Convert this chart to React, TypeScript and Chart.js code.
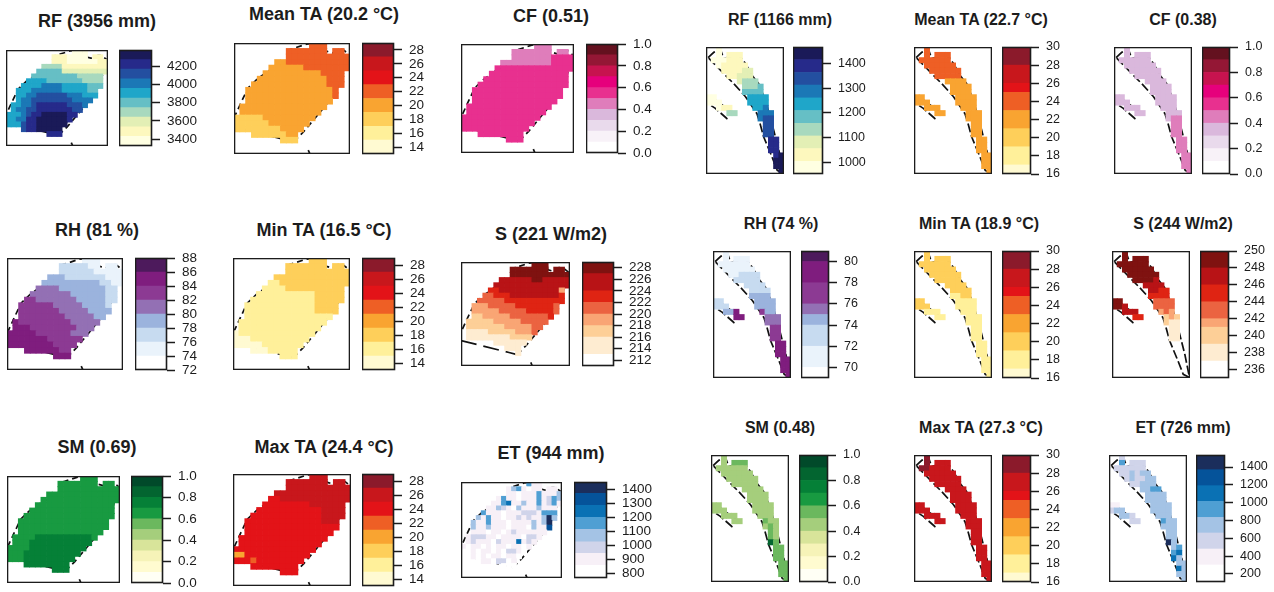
import React, { useEffect, useRef } from "react";
import { Chart, registerables } from "chart.js";

Chart.register(...registerables);

// ---------- colour ramps (lowest band first) ----------
const rampYlGnBu = ["#FFFFE2", "#FDF8BE", "#E3EFB5", "#A8D9BE", "#66BFC5", "#1FA6C9", "#1B78B6", "#234FA0", "#262A8A", "#1A1A58"];
const rampHeat = ["#FFFAD2", "#FFF09A", "#FECF5A", "#F9A431", "#EE5F25", "#E31318", "#C8171C", "#8B1A2B"];
const rampPuRd = ["#FFFFFF", "#F8F2F8", "#E9DAEC", "#DAB8DC", "#DF7DBB", "#E8308F", "#E6007C", "#C7134F", "#941735", "#64111F"];
const rampBuPu = ["#FFFFFF", "#EAF3FB", "#C7DBF0", "#9BB3DD", "#9370B4", "#8C3A93", "#7F1D7E", "#4D1A5C"];
const rampOrRd = ["#FFFFFF", "#FEECD1", "#FDCF97", "#F9A574", "#EB6341", "#DF2413", "#B81316", "#7F1210"];
const rampYlGn = ["#FFFFF5", "#FFFBD0", "#F6F3B8", "#D8E49A", "#A5CE7C", "#6BB85E", "#189A41", "#058037", "#036530", "#014A2A"];
const rampBlue = ["#FFFFFF", "#F7F0F7", "#D0D4EA", "#A4C3E5", "#4F9FD3", "#0A71B4", "#05539A", "#1B2E5C"];

// ---------- colour-bar band edges ----------
const bandsRfA = [3323, 3429, 3534, 3640, 3745, 3851, 3957, 4062, 4168, 4273, 4379];
const bandsTaA = [13, 15, 17, 19, 21, 23, 25, 27, 29];
const bandsUnit = [0, 0.1, 0.2, 0.3, 0.4, 0.5, 0.6, 0.7, 0.8, 0.9, 1];
const bandsRhA = [72, 74, 76, 78, 80, 82, 84, 86, 88];
const bandsSA = [211, 213, 216, 218, 220, 222, 224, 227, 229];
const bandsEtA = [767, 857, 943, 1025, 1114, 1200, 1285, 1371, 1452];
const bandsRfB = [953, 1004, 1056, 1107, 1158, 1210, 1261, 1313, 1364, 1416, 1467];
const bandsTaB = [16, 17, 19, 21, 23, 25, 26, 28, 30];
const bandsRhB = [69, 70, 72, 74, 75, 76, 78, 80, 81];
const bandsSB = [235, 237, 239, 241, 242, 244, 246, 248, 250];
const bandsEtB = [110, 301, 480, 660, 835, 1015, 1191, 1370, 1535];

// ---------- tick labels ----------
const ticksRfA = [3400, 3600, 3800, 4000, 4200];
const ticksTaA = [14, 16, 18, 20, 22, 24, 26, 28];
const ticksUnit = [0, 0.2, 0.4, 0.6, 0.8, 1];
const ticksRhA = [72, 74, 76, 78, 80, 82, 84, 86, 88];
const ticksSA = [212, 214, 216, 218, 220, 222, 224, 226, 228];
const ticksEtA = [800, 900, 1000, 1100, 1200, 1300, 1400];
const ticksRfB = [1000, 1100, 1200, 1300, 1400];
const ticksTaB = [16, 18, 20, 22, 24, 26, 28, 30];
const ticksRhB = [70, 72, 74, 76, 78, 80];
const ticksSB = [236, 238, 240, 242, 244, 246, 248, 250];
const ticksEtB = [200, 400, 600, 800, 1000, 1200, 1400];

// ---------- outlines, in grid cells ----------
const outlineA = [[10.3, 17.8], [12, 16], [14, 13.5], [16, 11], [17.5, 9], [18.6, 6.5], [19.2, 4], [20, 2.2], [18.8, 1.2], [18, 1.1], [17, 1.8], [16, 1.5], [15.5, 0.7], [14, 0], [12.5, 0.2], [9.6, 1.2], [9.3, 3.2], [8, 4], [6, 5], [4, 6.5], [2.5, 8], [2, 9], [1.1, 11], [0, 13.5]];
const bottomA = [[0, 15.1], [8.8, 17.4], [10.3, 17.8]];
const markA = [[12.8, 19.3], [13.1, 20]];
const outlineB = [[0.4, 2], [1.5, 1], [2.8, 0.5], [3.4, 2.2], [4.4, 1.9], [6.3, 1.6], [7.6, 3.1], [8.8, 5.3], [10.1, 6.9], [11.4, 10], [12.7, 14.5], [14, 19.5], [14.9, 23.9], [13.7, 23.3], [12.7, 20.8], [11.1, 17], [10.4, 14.5], [9.8, 12.6], [7.6, 9.4], [5.6, 7.2], [3.1, 4.7], [1.5, 3.1], [0.4, 2]];
const islandB = [[0.4, 9.4], [1.8, 10], [5, 12.3], [4, 13.5], [1.8, 11.6], [0.4, 10.7], [0.4, 9.4]];

// ---------- grids: each digit is the colour band of one cell ----------
const rfWet = [
  ".............000....", ".........1110000.11.", ".........11100000011", ".......3333111111111", "......44444222222222", ".....44444444433333.",
  "....555544444443333.", "...5555666655555444.", "..5556666665555544..", "..5566777777666555..", "..566777777776666...", ".556678888887776....",
  ".56677888888877.....", "55567889999988......", "5566889999998.......", "555788999999........", "...78899999.........", "........888.........",
];
const meanWet = [
  ".............444....", ".........4444444.44.", ".........44444444444", ".......3344444444444", "......33333344444444", ".....33333333334444.",
  "....333333333333444.", "...3333333333333444.", "..3333333333333334..", "..3333333333333334..", "..333333333333333...", ".333333333333333....",
  ".33333333333333.....", "22222333333333......", "2222223333333.......", "222222223333........", "...22222233.........", "........222.........",
];
const cfWet = [
  ".............444....", ".........4444444.44.", ".........44444445555", ".......4444444445555", "......55555555555555", ".....55555555555555.",
  "....555555555555555.", "...5555555555555555.", "..5555555555555555..", "..5555555555555555..", "..555555555555555...", ".555555555555555....",
  ".55555555555555.....", "55555555555555......", "5555555555555.......", "555555555555........", "...55555555.........", "........555.........",
];
const rhWet = [
  ".............111....", ".........2222211.11.", ".........22222211111", ".......3332222222111", "......33333333332211", ".....44443333333322.",
  "....444444433333322.", "...5544444443333322.", "..5555554444433332..", "..5555555444443333..", "..555555554444433...", ".655555555544444....",
  ".66655555555444.....", "66666555555444......", "6666666555555.......", "666666665555........", "...66666655.........", "........666.........",
];
const minWet = [
  ".............222....", ".........2222222.22.", ".........22222222222", ".......2222222222222", "......11222222222222", ".....11112222222222.",
  "....111111111122222.", "...1111111111122222.", "..1111111111112222..", "..1111111111112222..", "..111111111111111...", ".111111111111111....",
  ".11111111111111.....", "01111111111111......", "0001111111111.......", "000001111111........", "...00011111.........", "........111.........",
];
const sWet = [
  ".............777....", ".........7777777.77.", ".........77777777777", ".......6666667766666", "......66666666666666", ".....55666666666663.",
  "....445556666666665.", "...4444455555555555.", "..3334444455555554..", "..3333344444555554..", "..223333344444445...", ".222223333344444....",
  ".22222223333344.....", ".1111222223334......", ".111111112222.......", "......111111........", "........111.........", "..........1.........",
];
const smWet = [
  ".............666....", ".........6666666.66.", ".........66666666666", ".......6666666666666", "......66666666666666", ".....66666666666666.",
  "....666666666666666.", "...6666666666666666.", "..6666666666666666..", "..6666666666666666..", "..666666666666666...", ".666677777777776....",
  ".66677777777777.....", "66667777777777......", "6667777777777.......", "666777777777........", "...77777777.........", "........777.........",
];
const maxWet = [
  ".............666....", ".........6666666.66.", ".........66666666666", ".......6666666666666", "......55666666666666", ".....55555555666666.",
  "....555555555556666.", "...5555555555556666.", "..5555555555555666..", "..5555555555555555..", "..555555555555555...", ".555555555555555....",
  ".55555555555555.....", "55555555555555......", "3355555555555.......", "555455555555........", "...55555555.........", "........555.........",
];
const etWet = [
  ".............411....", ".........1341011.11.", ".........11011141113", ".......1411011141243", "......11451131141241", ".....11321031113111.",
  "....411101112221444.", "...3141101121211373.", "..3114111011113137..", "..3113111011103116..", "..111011012111111...", ".122211011110221....",
  ".12111021115121.....", "10110101101101......", "0010110102210.......", "001010110110........", "...01102201.........", "........000.........",
];

const rfDry = [
  "..0............", "..0.111........", ".000111........", "..011111.......", "...111122......", "....11222......", "......2333.....", ".......3334....",
  ".......4444....", "00......5555...", "000.....5555...", "..011....556...", "....33....666..", "..........677..", "...........77..", "...........77..",
  "...........77..", "............88.", "............88.", "............88.", ".............89", ".............99", ".............99", "..............9",
];
const meanDry = [
  "..4............", "..4.444........", ".444444........", "..444444.......", "...444444......", "....44444......", "......3333.....", ".......3333....",
  ".......3333....", "33......3333...", "333.....3333...", "..333....333...", "....33....333..", "..........333..", "...........33..", "...........33..",
  "...........33..", "............33.", "............33.", "............33.", ".............33", ".............33", ".............33", "..............3",
];
const cfDry = [
  "..3............", "..3.333........", ".333333........", "..333333.......", "...333333......", "....33333......", "......3333.....", ".......3333....",
  ".......3333....", "33......3333...", "333.....3333...", "..333....333...", "....33....333..", "..........344..", "...........44..", "...........44..",
  "...........44..", "............44.", "............44.", "............44.", ".............44", ".............44", ".............44", "..............4",
];
const rhDry = [
  "..1............", "..1.111........", ".111111........", "..111111.......", "...112222......", "....22222......", "......2222.....", ".......2222....",
  ".......3333....", "22......3333...", "222.....3333...", "..336....533...", "....66....444..", "..........444..", "...........55..", "...........55..",
  "...........55..", "............66.", "............66.", "............66.", ".............66", ".............66", ".............66", "..............6",
];
const minDry = [
  "..2............", "..2.222........", ".222222........", "..222222.......", "...222222......", "....22222......", "......2222.....", ".......2222....",
  ".......1122....", "22......1111...", "222.....1111...", "..111....111...", "....11....111..", "..........111..", "...........11..", "...........11..",
  "...........11..", "............11.", "............11.", "............11.", ".............11", ".............11", ".............11", "..............1",
];
const sDry = [
  "..7............", "..7.777........", ".777777........", "..777777.......", "...777777......", "....77776......", "......6666.....", ".......6655....",
  ".......5555....", "77......4444...", "776.....4444...", "..666....343...", "....55....232..", "..........211..", "...........11..", "...........11..",
  "...........11..",
];
const smDry = [
  "..4............", "..4.555........", ".444444........", "..444444.......", "...444444......", "....44444......", "......4444.....", ".......4444....",
  ".......4444....", "44......4444...", "444.....4444...", "..444....444...", "....44....544..", "..........454..", "...........54..", "...........54..",
  "...........85..", "............55.", "............55.", "............55.", ".............55", ".............55", ".............55", "..............5",
];
const maxDry = [
  "..7............", "..7.666........", ".776666........", "..666666.......", "...666666......", "....66666......", "......6666.....", ".......6666....",
  ".......6666....", "66......6666...", "666.....6666...", "..666....666...", "....66....666..", "..........666..", "...........66..", "...........66..",
  "...........66..", "............66.", "............66.", "............66.", ".............66", ".............66", ".............66", "..............6",
];
const etDry = [
  "..2............", "..4.222........", ".222222........", "..223233.......", "...232233......", "....22333......", "......3344.....", ".......3333....",
  ".......3333....", "11......3333...", "233.....3333...", "..332....333...", "....22....433..", "..........333..", "...........33..", "...........33..",
  "...........73..", "............34.", "............45.", "............53.", ".............33", ".............53", ".............33", "..............3",
];

type Box = [number, number, number, number];
type PanelSpec = {
  title: string; tx: number; ty: number; map: Box; bar: Box; grid: string[];
  ramp: string[]; bands: number[]; ticks: number[]; kind: "A" | "B"; dashedBottom?: boolean;
};

const panels: PanelSpec[] = [
  { title: "RF (3956 mm)", tx: 97, ty: 21, map: [6, 50, 102, 96], bar: [119, 50, 33, 96], grid: rfWet, ramp: rampYlGnBu, bands: bandsRfA, ticks: ticksRfA, kind: "A" },
  { title: "Mean TA (20.2 °C)", tx: 324, ty: 14, map: [234, 43, 116, 111], bar: [362, 43, 32, 111], grid: meanWet, ramp: rampHeat, bands: bandsTaA, ticks: ticksTaA, kind: "A" },
  { title: "CF (0.51)", tx: 551, ty: 16, map: [461, 44, 113, 109], bar: [586, 44, 32, 109], grid: cfWet, ramp: rampPuRd, bands: bandsUnit, ticks: ticksUnit, kind: "A" },
  { title: "RH (81 %)", tx: 97, ty: 230, map: [7, 258, 116, 112], bar: [135, 258, 32, 112], grid: rhWet, ramp: rampBuPu, bands: bandsRhA, ticks: ticksRhA, kind: "A" },
  { title: "Min TA (16.5 °C)", tx: 324, ty: 230, map: [233, 258, 117, 112], bar: [362, 258, 33, 112], grid: minWet, ramp: rampHeat, bands: bandsTaA, ticks: ticksTaA, kind: "A", dashedBottom: true },
  { title: "S (221 W/m2)", tx: 551, ty: 234, map: [461, 262, 109, 104], bar: [582, 262, 32, 104], grid: sWet, ramp: rampOrRd, bands: bandsSA, ticks: ticksSA, kind: "A", dashedBottom: true },
  { title: "SM (0.69)", tx: 97, ty: 447, map: [7, 476, 113, 107], bar: [131, 476, 32, 107], grid: smWet, ramp: rampYlGn, bands: bandsUnit, ticks: ticksUnit, kind: "A" },
  { title: "Max TA (24.4 °C)", tx: 324, ty: 447, map: [233, 474, 118, 112], bar: [362, 474, 32, 112], grid: maxWet, ramp: rampHeat, bands: bandsTaA, ticks: ticksTaA, kind: "A" },
  { title: "ET (944 mm)", tx: 551, ty: 453, map: [461, 482, 101, 96], bar: [574, 482, 33, 96], grid: etWet, ramp: rampBlue, bands: bandsEtA, ticks: ticksEtA, kind: "A", dashedBottom: true },
  { title: "RF (1166 mm)", tx: 780, ty: 20, map: [706, 47, 78, 127], bar: [793, 47, 30, 127], grid: rfDry, ramp: rampYlGnBu, bands: bandsRfB, ticks: ticksRfB, kind: "B" },
  { title: "Mean TA (22.7 °C)", tx: 981, ty: 20, map: [914, 47, 78, 127], bar: [1002, 47, 29, 127], grid: meanDry, ramp: rampHeat, bands: bandsTaB, ticks: ticksTaB, kind: "B" },
  { title: "CF (0.38)", tx: 1183, ty: 20, map: [1114, 47, 78, 127], bar: [1202, 47, 28, 127], grid: cfDry, ramp: rampPuRd, bands: bandsUnit, ticks: ticksUnit, kind: "B" },
  { title: "RH (74 %)", tx: 781, ty: 224, map: [713, 251, 78, 127], bar: [801, 251, 28, 127], grid: rhDry, ramp: rampBuPu, bands: bandsRhB, ticks: ticksRhB, kind: "B" },
  { title: "Min TA (18.9 °C)", tx: 979, ty: 224, map: [914, 251, 78, 127], bar: [1002, 251, 29, 127], grid: minDry, ramp: rampHeat, bands: bandsTaB, ticks: ticksTaB, kind: "B" },
  { title: "S (244 W/m2)", tx: 1183, ty: 224, map: [1112, 251, 78, 127], bar: [1200, 251, 29, 127], grid: sDry, ramp: rampOrRd, bands: bandsSB, ticks: ticksSB, kind: "B" },
  { title: "SM (0.48)", tx: 780, ty: 428, map: [711, 455, 78, 127], bar: [799, 455, 29, 127], grid: smDry, ramp: rampYlGn, bands: bandsUnit, ticks: ticksUnit, kind: "B" },
  { title: "Max TA (27.3 °C)", tx: 981, ty: 428, map: [914, 455, 78, 127], bar: [1002, 455, 29, 127], grid: maxDry, ramp: rampHeat, bands: bandsTaB, ticks: ticksTaB, kind: "B" },
  { title: "ET (726 mm)", tx: 1183, ty: 428, map: [1109, 455, 78, 127], bar: [1196, 455, 29, 127], grid: etDry, ramp: rampBlue, bands: bandsEtB, ticks: ticksEtB, kind: "B" },
];

const FONT = '"Liberation Sans", Arial, sans-serif';
const INK = "#1c1c1c";

const frame = {
  id: "frame",
  afterDatasetsDraw(chart: any) {
    const { ctx, chartArea: a } = chart;
    ctx.save();
    ctx.strokeStyle = INK;
    ctx.lineWidth = 1.6;
    ctx.strokeRect(a.left + 0.5, a.top + 0.5, a.right - a.left - 1, a.bottom - a.top - 1);
    ctx.restore();
  },
};

const toPoints = (list: number[][]) => list.map(([x, y]) => ({ x, y }));

function MapChart({ p }: { p: PanelSpec }) {
  const ref = useRef<HTMLCanvasElement>(null);
  const [x, y, w, h] = p.map;
  const cols = p.kind === "A" ? 20 : 15;
  const rows = p.kind === "A" ? 20 : 24;
  useEffect(() => {
    const cells: { x: number; y: number }[] = [];
    const colors: string[] = [];
    p.grid.forEach((row, r) => {
      row.split("").forEach((ch, c) => {
        if (ch === ".") return;
        cells.push({ x: c + 0.5, y: r + 0.5 });
        colors.push(p.ramp[Number(ch)]);
      });
    });
    const radius = (Math.max(w / cols, h / rows) / 2) * Math.SQRT2 + 0.5;
    const lineStyle = (dash: number[]) => ({
      type: "line" as const, showLine: true, pointRadius: 0, borderColor: "#111", borderWidth: 1.7,
      borderDash: dash, fill: false, tension: 0, backgroundColor: "transparent",
    });
    const lines = p.kind === "A"
      ? [
          { data: toPoints(outlineA), ...lineStyle([6, 4]) },
          { data: toPoints(bottomA), ...lineStyle(p.dashedBottom ? [16, 7] : []) },
          { data: toPoints(markA), ...lineStyle([]) },
        ]
      : [
          { data: toPoints(outlineB), ...lineStyle([9, 3]) },
          { data: toPoints(islandB), ...lineStyle([9, 3]) },
        ];
    const chart = new Chart(ref.current!, {
      type: "scatter",
      data: {
        datasets: [
          { data: cells, pointStyle: "rect", pointRadius: radius, pointHoverRadius: radius, pointBackgroundColor: colors, pointBorderWidth: 0, showLine: false } as any,
          ...(lines as any[]),
        ],
      },
      options: {
        animation: false, responsive: false, events: [],
        layout: { padding: 0, autoPadding: false },
        plugins: { legend: { display: false }, tooltip: { enabled: false } },
        scales: {
          x: { type: "linear", display: false, min: 0, max: cols },
          y: { type: "linear", display: false, min: 0, max: rows, reverse: true },
        },
      },
      plugins: [frame],
    });
    return () => chart.destroy();
  }, []);
  return <canvas ref={ref} width={w} height={h} style={{ position: "absolute", left: x, top: y, width: w, height: h }} />;
}

function BarChart({ p }: { p: PanelSpec }) {
  const ref = useRef<HTMLCanvasElement>(null);
  const [x, y, w, h] = p.bar;
  const pad = 10;
  const axisWidth = 56;
  const fontSize = p.kind === "A" ? 13.5 : 12.5;
  useEffect(() => {
    const lo = p.bands[0];
    const hi = p.bands[p.bands.length - 1];
    const chart = new Chart(ref.current!, {
      type: "bar",
      data: {
        labels: [""],
        datasets: p.ramp.map((color, i) => ({
          data: [[p.bands[i], p.bands[i + 1]]] as any,
          backgroundColor: color, borderWidth: 0, barPercentage: 1, categoryPercentage: 1, grouped: false,
        })),
      },
      options: {
        animation: false, responsive: false, events: [],
        layout: { padding: { top: pad, bottom: pad, left: 0, right: 0 }, autoPadding: false },
        plugins: { legend: { display: false }, tooltip: { enabled: false } },
        scales: {
          x: { display: false },
          y: {
            position: "right", min: lo, max: hi,
            afterFit: (s: any) => { s.width = axisWidth; s.paddingTop = 0; s.paddingBottom = 0; },
            afterBuildTicks: (s: any) => { s.ticks = p.ticks.map((value) => ({ value })); },
            grid: { drawOnChartArea: false, drawTicks: true, tickLength: 8, tickWidth: 1.5, tickColor: INK },
            border: { display: false },
            ticks: {
              autoSkip: false, padding: 7, color: INK, maxRotation: 0, align: "center",
              font: { family: FONT, size: fontSize },
              callback: (v: any) => (hi <= 1 ? Number(v).toFixed(1) : String(v)),
            },
          },
        },
      },
      plugins: [frame],
    });
    return () => chart.destroy();
  }, []);
  const cw = w + axisWidth;
  const ch = h + pad * 2;
  return <canvas ref={ref} width={cw} height={ch} style={{ position: "absolute", left: x, top: y - pad, width: cw, height: ch }} />;
}

export default function App() {
  return (
    <div style={{ position: "fixed", left: 0, top: 0, width: 1274, height: 592, overflow: "hidden", background: "#fff", filter: "blur(0.45px)" }}>
      {panels.map((p) => (
        <React.Fragment key={p.title}>
          <div
            style={{
              position: "absolute", left: p.tx, top: p.ty, transform: "translate(-50%,-50%)", whiteSpace: "nowrap", lineHeight: 1,
              fontFamily: FONT, fontWeight: 700, fontSize: p.kind === "A" ? 18 : 16, color: INK,
            }}
          >
            {p.title}
          </div>
          <MapChart p={p} />
          <BarChart p={p} />
        </React.Fragment>
      ))}
    </div>
  );
}
